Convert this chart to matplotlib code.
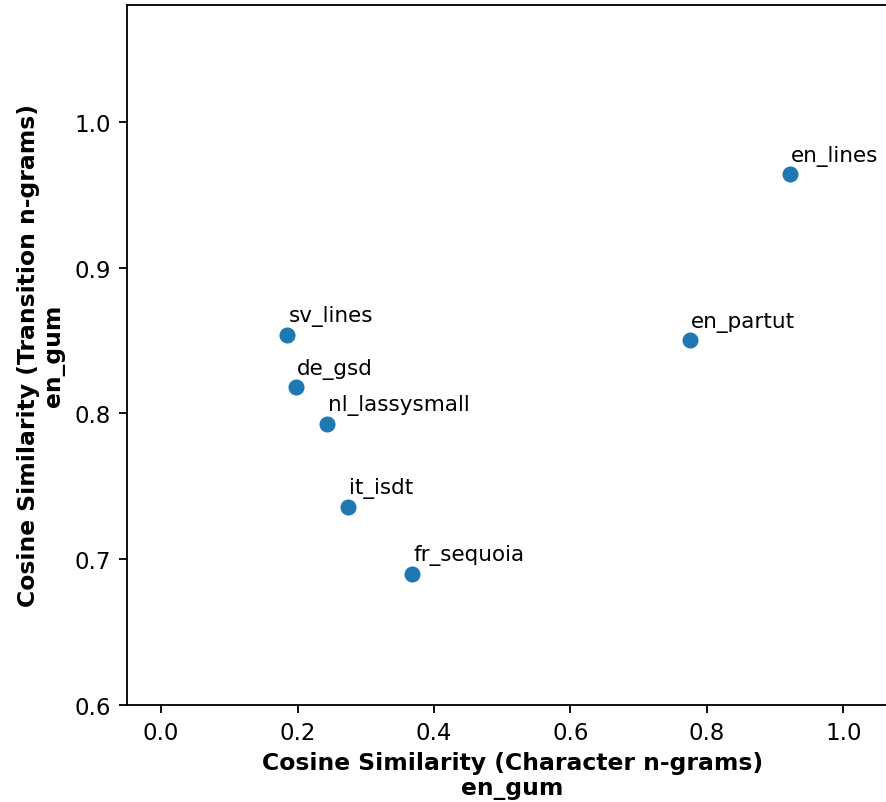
import matplotlib
matplotlib.use("Agg")
import matplotlib.pyplot as plt

treebanks = ["en_lines", "en_partut", "sv_lines", "de_gsd",
             "nl_lassysmall", "it_isdt", "fr_sequoia"]
char_sim = [0.921, 0.775, 0.185, 0.198, 0.243, 0.274, 0.368]
trans_sim = [0.964, 0.850, 0.854, 0.818, 0.793, 0.736, 0.690]

DPI = 165
fig = plt.figure(figsize=(886 / DPI, 803 / DPI), dpi=DPI)
ax = fig.add_axes([127 / 886, 97 / 803, 771 / 886, 700 / 803])

ax.scatter(char_sim, trans_sim, s=36, color="#1f77b4", zorder=3)
for name, x, y in zip(treebanks, char_sim, trans_sim):
    ax.annotate(name, (x, y), xytext=(0.5, 5.8), textcoords="offset points",
                ha="left", va="baseline", fontsize=9.4)

ax.set_xlim(-0.05, 1.08)
ax.set_ylim(0.6, 1.08)
ax.set_xticks([0.0, 0.2, 0.4, 0.6, 0.8, 1.0])
ax.set_yticks([0.6, 0.7, 0.8, 0.9, 1.0])

ax.set_xlabel("Cosine Similarity (Character n-grams)\nen_gum",
              fontweight="bold", fontsize=10.25, linespacing=1.1, labelpad=3)
ax.set_ylabel("Cosine Similarity (Transition n-grams)\nen_gum",
              fontweight="bold", fontsize=10.25, linespacing=1.1)

fig.savefig("out.png", dpi=DPI)
